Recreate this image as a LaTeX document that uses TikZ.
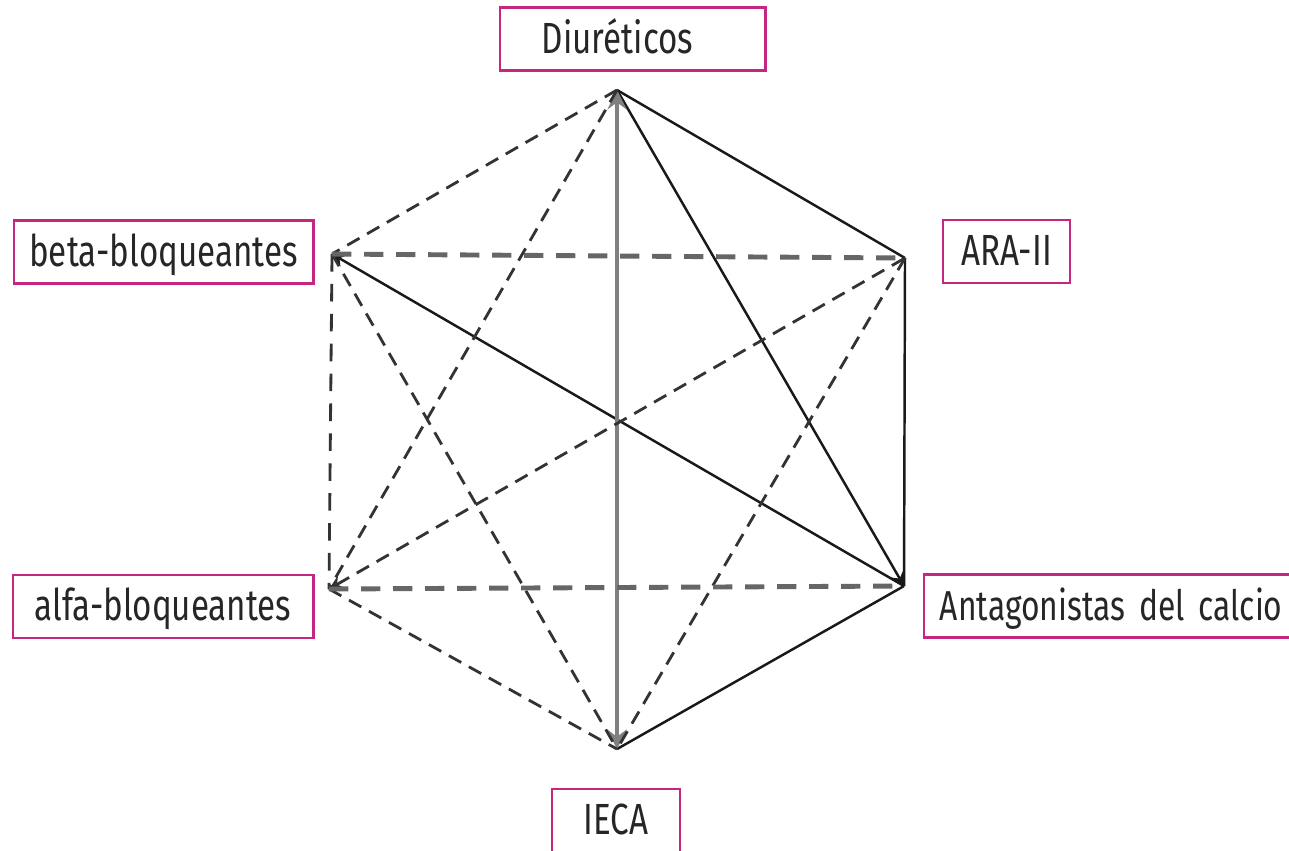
\documentclass[tikz,border=0pt]{standalone}
\usepackage{fontspec}
\setmainfont[FakeStretch=0.76,WordSpace=0.75]{Fira Sans}
\usepackage{tikz}
\usetikzlibrary{shapes,positioning}
\definecolor{rosa}{RGB}{196,38,130}
\tikzset{lbl/.style={rectangle,draw=rosa,line width=0.8pt,inner sep=0pt,minimum height=0.63cm,text height=8.5pt,text depth=0.5pt,text=black!85,font=\fontsize{12.4}{14}\selectfont}}
\tikzset{sol/.style={black!90,line width=0.7pt}}
\tikzset{axe/.style={black!50,line width=1.4pt}}
\tikzset{dsh/.style={black!80,line width=0.8pt,dash pattern=on 4pt off 2.5pt}}
\tikzset{hdsh/.style={black!60,line width=1.4pt,dash pattern=on 5.5pt off 3.6pt}}
\begin{document}
\begin{tikzpicture}[>=stealth,x=0.01cm,y=-0.01cm]
        \useasboundingbox (0,0) rectangle (1289,850);

        % vertices of the hexagon
        \coordinate (diu) at (617,90);
        \coordinate (ara) at (905,258);
        \coordinate (cal) at (904,586);
        \coordinate (ieca) at (617,749);
        \coordinate (alfa) at (329,589);
        \coordinate (beta) at (332,254);

        % labels
        \node[lbl,minimum width=2.65cm,text width=1.81cm,align=left] (ldiu) at (632.5,39) {Diuréticos};
        \node[lbl,minimum width=2.99cm] (lbeta) at (163.5,252) {beta-bloqueantes};
        \node[lbl,minimum width=1.27cm] (lara) at (1006.5,251.5) {ARA-II};
        \node[lbl,minimum width=3.00cm] (lalfa) at (163,606.5) {alfa-bloqueantes};
        \node[lbl,minimum width=4.00cm,text width=3.68cm,align=left,font=\fontsize{11.9}{14}\selectfont] (lcal) at (1124,606) {Antagonistas del calcio};
        \node[lbl,minimum width=1.28cm] (lieca) at (616,820.5) {IECA};

        % solid
        \draw [sol] (diu) to [] (ara);
        \draw [sol,->] (diu) to [] (cal);
        \draw [sol] (ara) to [] (cal);
        \draw [sol] (cal) to [] (ieca);
        \draw [sol,<-] (beta) to [] (cal);
        \draw [axe,<->] (diu) to [] (ieca);

        % dashed
        \draw [dsh] (diu) to [] (beta);
        \draw [dsh] (diu) to [] (alfa);
        \draw [dsh,dash pattern=on 5pt off 3.5pt] (beta) to [] (alfa);
        \draw [dsh] (beta) to [] (ieca);
        \draw [dsh,<-] (alfa) to [] (ara);
        \draw [dsh] (alfa) to [] (ieca);
        \draw [dsh] (ara) to [] (ieca);
        \draw [hdsh] (beta) to [] (ara);
        \draw [hdsh] (alfa) to [] (cal);
    \end{tikzpicture}
\end{document}
